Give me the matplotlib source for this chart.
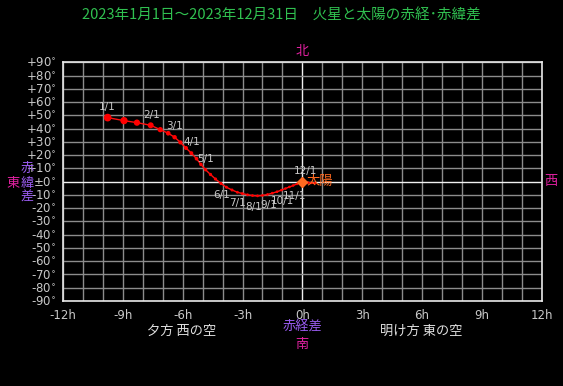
import matplotlib
matplotlib.use("Agg")
import matplotlib.pyplot as plt

plt.rcParams['font.family'] = ['DejaVu Sans', 'Noto Sans CJK JP']

# Mars minus Sun, sampled every 10 days from 2023/1/1
ra_diff = [-9.77, -8.95, -8.30, -7.61, -7.13, -6.73, -6.41, -6.12, -5.84, -5.57,
           -5.31, -5.09, -4.86, -4.61, -4.36, -4.08, -3.81, -3.53, -3.26, -3.01,
           -2.75, -2.50, -2.25, -2.00, -1.75, -1.51, -1.27, -1.05, -0.85, -0.65,
           -0.46, -0.27, -0.07, 0.11, 0.28, 0.46, 0.63]
dec_diff = [48.3, 46.0, 44.5, 42.5, 39.2, 36.5, 33.5, 29.6, 25.4, 21.5,
            17.3, 13.0, 9.0, 5.4, 2.0, -1.4, -4.2, -6.3, -8.0, -9.0,
            -9.9, -10.5, -10.7, -10.4, -9.7, -8.7, -7.6, -6.4, -5.2, -4.0,
            -2.9, -1.7, -0.4, -0.5, -0.7, -0.9, -1.1]
# dot diameter in pixels (brightness)
dot_px = [7.7, 7.3, 6.3, 6.0, 5.3, 4.7, 4.4, 4.2, 4.0, 3.9,
          3.7, 3.5, 3.4, 3.3, 3.2, 3.1, 3.0, 3.0, 2.9, 2.9,
          2.8, 2.8, 2.8, 2.7, 2.7, 2.7, 2.7, 2.6, 2.6, 2.6,
          2.6, 2.6, 2.6, 2.6, 2.6, 2.6, 2.6]

# first-of-month positions
month_labels = ["1/1", "2/1", "3/1", "4/1", "5/1", "6/1",
                "7/1", "8/1", "9/1", "10/1", "11/1", "12/1"]
month_x = [-9.77, -7.57, -6.42, -5.57, -4.86, -4.06,
           -3.23, -2.45, -1.68, -0.99, -0.38, 0.18]
month_y = [48.3, 42.2, 33.7, 21.5, 9.0, -1.7,
           -8.1, -10.6, -9.4, -6.0, -2.4, -0.6]
label_below = [False, False, False, False, False, True,
               True, True, True, True, True, False]

x_ticks = list(range(-12, 13, 3))
x_ticklabels = [f"{v}h" for v in x_ticks]
y_ticks = list(range(-90, 91, 10))
y_ticklabels = [("±0$^{\\circ}$" if v == 0 else f"{v:+d}$^{{\\circ}}$") for v in y_ticks]

W, H = 563, 386
fig = plt.figure(figsize=(W / 100, H / 100), dpi=100)
fig.patch.set_facecolor("black")
ax = fig.add_axes([63.2 / W, 1 - 301 / H, (541.5 - 63.2) / W, (301 - 62.3) / H])
ax.set_facecolor("black")

ax.set_xlim(-12, 12)
ax.set_ylim(-90, 90)

# grid
for h in range(-12, 13):
    c = "#f0f0f0" if h == 0 else "#8c8c8c"
    ax.axvline(h, color=c, lw=1.0, zorder=1)
for d in range(-90, 91, 10):
    c = "#f0f0f0" if d == 0 else "#8c8c8c"
    ax.axhline(d, color=c, lw=1.0, zorder=1)
for s in ax.spines.values():
    s.set_color("#e8e8e8")
    s.set_linewidth(1.2)

ax.set_xticks(x_ticks)
ax.set_xticklabels(x_ticklabels)
ax.set_yticks(y_ticks)
ax.set_yticklabels(y_ticklabels)
ax.tick_params(length=0, colors="#c8c8c8", labelsize=8.5)
ax.tick_params(axis="y", pad=5)
ax.tick_params(axis="x", pad=6)

# Mars track
ax.plot(ra_diff, dec_diff, color="#ff1010", lw=1.0, zorder=3)
ax.scatter(ra_diff, dec_diff, s=[(d * 0.72) ** 2 for d in dot_px],
           color="#ff0000", zorder=4, linewidths=0)

for lab, x, y, below in zip(month_labels, month_x, month_y, label_below):
    ax.annotate(lab, (x, y), xytext=(0, -11 if below else 11),
                textcoords="offset pixels", ha="center", va="center",
                color="#c8c8c8", fontsize=7.5, zorder=5)

# Sun
ax.plot([0], [0], marker="D", ms=5.5, color="#ff6a20", zorder=6)
ax.text(0.2, 0, "太陽", color="#ff6a20", fontsize=9.5, va="center", ha="left",
        family=["Noto Sans CJK JP"], zorder=7)

def ftext(x, y, s, color, size=9.5, **kw):
    fig.text(x / W, 1 - y / H, s, color=color, fontsize=size, ha="center",
             va="center", family=["Noto Sans CJK JP", "DejaVu Sans"], **kw)

ftext(281, 15, "2023年1月1日～2023年12月31日　火星と太陽の赤経･赤緯差", "#30c050", 10.5)
ftext(302, 52, "北", "#e020a0")
ftext(302, 327, "赤経差", "#9a5cf0")
ftext(302, 344, "南", "#e020a0")
ftext(182, 331, "夕方 西の空", "#e0e0e0")
ftext(421, 331, "明け方 東の空", "#e0e0e0")
ftext(27, 168, "赤", "#9a5cf0")
ftext(27, 183, "緯", "#9a5cf0")
ftext(27, 197, "差", "#9a5cf0")
ftext(13, 183, "東", "#e020a0")
ftext(551, 182, "西", "#e020a0")

fig.savefig("out.png", dpi=100, facecolor="black")
